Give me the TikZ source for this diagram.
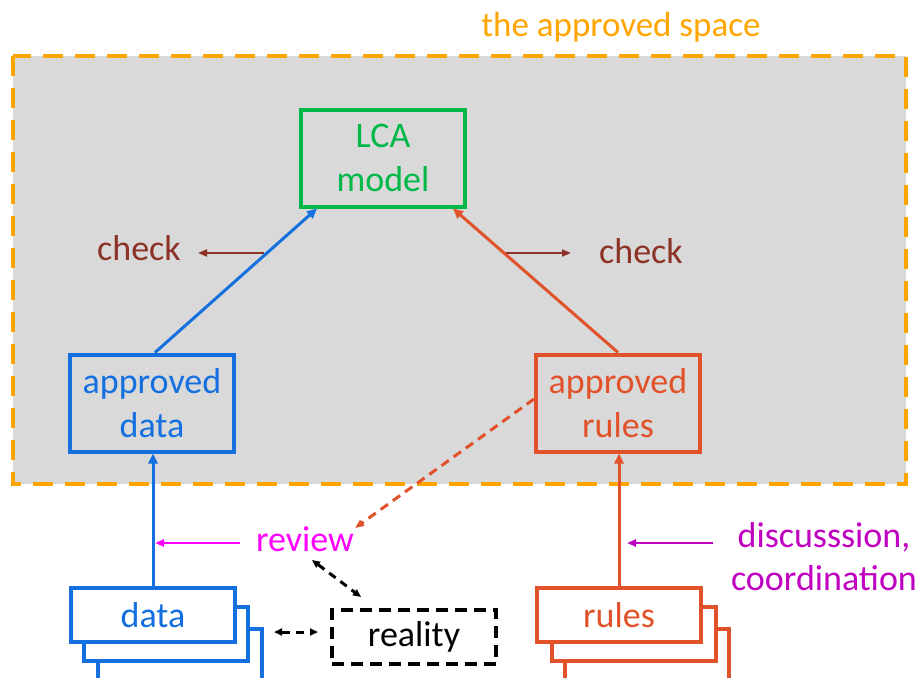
\documentclass[tikz,border=0pt]{standalone}
\usepackage{fontspec}
\setmainfont{Carlito}
\usetikzlibrary{arrows.meta}
\definecolor{cblue}{RGB}{20,112,224}
\definecolor{cgreen}{RGB}{0,184,72}
\definecolor{corange}{RGB}{226,82,42}
\definecolor{cyellow}{RGB}{255,165,0}
\definecolor{cbrown}{RGB}{140,50,38}
\definecolor{cmagenta}{RGB}{255,0,255}
\definecolor{cpurple}{RGB}{192,0,192}
\definecolor{cgray}{RGB}{217,217,217}
\tikzset{
  big/.style={font=\fontsize{36}{44}\selectfont},
  tip/.style={-{Triangle[length=10pt,width=9pt]}},
  smalltip/.style={-{Triangle[length=9pt,width=7pt]}},
  boxof/.style={draw=#1, text=#1, line width=4pt, fill=cgray, minimum width=164pt,
    minimum height=97pt, align=center, big, inner sep=0pt},
  stackbox/.style={draw=#1, line width=4pt, fill=white, minimum width=164pt,
    minimum height=54pt, inner sep=0pt},
  conn/.style={draw=#1, line width=3pt, tip},
  checkarrow/.style={draw=cbrown, line width=2pt, smalltip},
  twoway/.style={line width=3pt, black, dash pattern=on 8pt off 6pt,
    {Triangle[length=8pt,width=7pt]}-{Triangle[length=8pt,width=7pt]}},
}
\begin{document}
\begin{tikzpicture}[x=1pt,y=-1pt]
\useasboundingbox (0,0) rectangle (917,677);
% the approved space
\node[text=cyellow, font=\fontsize{35}{42}\selectfont] (space) at (621,27) {the approved space};
\draw[cyellow, fill=cgray, line width=4pt, dash pattern=on 20pt off 12pt] (13,56) rectangle (906,484);

% main boxes
\node[boxof=cgreen] (lca) at (383,158) {LCA\\model};
\node[boxof=cblue] (adata) at (152,403) {approved\\data};
\node[boxof=corange] (arules) at (618,403) {approved\\rules};

% stacked input boxes
\node[stackbox=cblue] (data3) at (180,656) {};
\node[stackbox=cblue] (data2) at (166,634) {};
\node[stackbox=cblue, text=cblue, big] (data) at (153,615) {data};
\node[stackbox=corange] (rules3) at (647,656) {};
\node[stackbox=corange] (rules2) at (634,634) {};
\node[stackbox=corange, text=corange, big] (rules) at (619,615) {rules};

% reality
\node[draw=black, line width=4pt, dash pattern=on 12pt off 7pt, minimum width=164pt,
  minimum height=54pt, inner sep=0pt, big] (reality) at (414,637) {reality};

% labels
\node[big, text=cbrown] (checkl) at (139,248) {check};
\node[big, text=cbrown] (checkr) at (641,251) {check};
\node[big, text=cmagenta] (review) at (305,539) {review};
\node[text=cpurple, align=center, font=\fontsize{36}{43}\selectfont] (disc) at (824,557) {discusssion,\\coordination};

% connectors into the LCA model
\draw[conn=cblue] ([xshift=3pt]adata.north) -- ([xshift=18pt]lca.south west);
\draw[conn=corange] (arules.north) -- ([xshift=-14pt]lca.south east);

% checks
\coordinate (cl0) at (264,253);
\coordinate (cl1) at (198,253);
\coordinate (cr0) at (506,253);
\coordinate (cr1) at (571,253);
\draw[checkarrow] (cl0) -- (cl1);
\draw[checkarrow] (cr0) -- (cr1);

% inputs into approved boxes
\draw[conn=cblue] (data.north) -- (data.north |- adata.south);
\draw[conn=corange] (rules.north) -- (rules.north |- arules.south);

% review and discussion
\coordinate (rv0) at (240,543);
\coordinate (rv1) at (155,543);
\coordinate (dd0) at (713,543);
\coordinate (dd1) at (627,543);
\draw[line width=2.5pt, cmagenta, smalltip] (rv0) -- (rv1);
\draw[line width=2.5pt, cpurple, smalltip] (dd0) -- (dd1);
\coordinate (rvin) at (355,528);
\draw[line width=3pt, corange, dash pattern=on 9pt off 6pt, smalltip] ([yshift=4pt]arules.west) -- (rvin);
\coordinate (rvout) at (312,560);
\coordinate (realin) at (361,597);
\draw[twoway] (rvout) -- (realin);
\coordinate (dataside) at (274,632);
\coordinate (realside) at (318,632);
\draw[twoway] (dataside) -- (realside);
\end{tikzpicture}
\end{document}
